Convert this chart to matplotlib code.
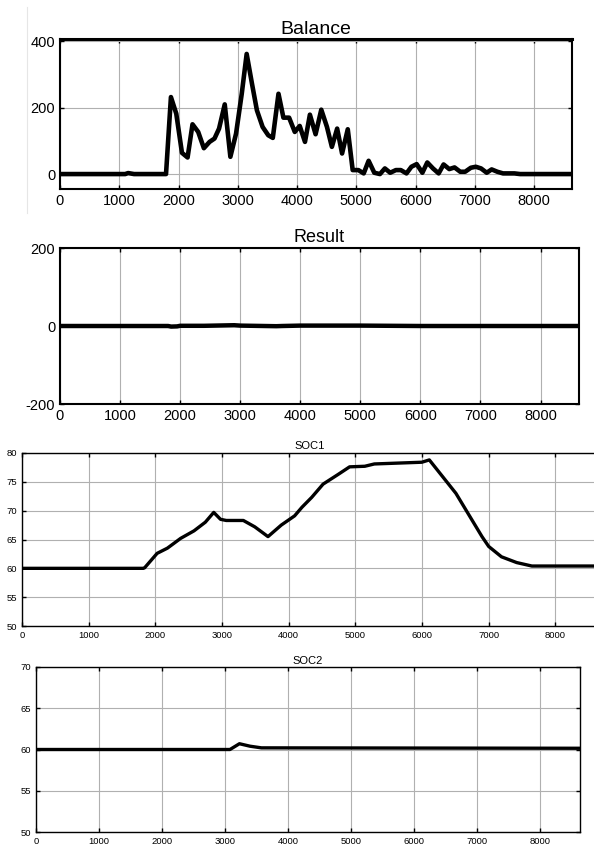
import matplotlib
matplotlib.use('Agg')
import matplotlib.pyplot as plt
from matplotlib.lines import Line2D

plt.rcParams['font.family'] = ['Liberation Sans', 'DejaVu Sans']
plt.rcParams['axes.unicode_minus'] = False

# Balance
bal_t = [0, 1100, 1150, 1250, 1789, 1872, 1962, 2058, 2153, 2236, 2332, 2428, 2524, 2607,
         2684, 2780, 2875, 2971, 3067, 3150, 3240, 3323, 3419, 3514, 3591, 3687, 3770,
         3866, 3962, 4045, 4134, 4217, 4313, 4409, 4505, 4588, 4677, 4760, 4856, 4939,
         5035, 5125, 5208, 5304, 5399, 5482, 5572, 5668, 5751, 5847, 5930, 6019, 6115,
         6198, 6294, 6390, 6473, 6569, 6658, 6754, 6837, 6933, 7016, 7105, 7201, 7284,
         7380, 7476, 7668, 7764, 8640]
bal_v = [0, 0, 3, 0, 0, 232, 182, 64, 50, 150, 127, 78, 97, 107,
         137, 210, 52, 122, 242, 362, 272, 192, 142, 117, 109, 242, 170,
         170, 127, 145, 97, 179, 120, 194, 142, 82, 137, 62, 135, 12,
         12, 2, 40, 4, 0, 17, 4, 12, 12, 2, 22, 30, 4,
         35, 17, 2, 29, 15, 20, 7, 7, 19, 22, 17, 4, 14,
         7, 2, 2, 0, 0]

# Result
res_t = [0, 1800, 1850, 1950, 2000, 2400, 2900, 3000, 3600, 3700, 4000, 5000, 6000, 7000, 8640]
res_v = [0, 0, -1.5, -1, 0.5, 0.5, 2, 1, -0.5, 0, 1, 1, 0, 0, 0]

# SOC1
soc1_t = [0, 1820, 1840, 2027, 2181, 2380, 2580, 2750, 2876, 2978, 3064, 3320, 3491, 3690,
          3889, 4089, 4200, 4345, 4516, 4744, 4914, 5142, 5285, 5997, 6110, 6509, 6900,
          7000, 7192, 7420, 7648, 8640]
soc1_v = [60.0, 60.0, 60.1, 62.6, 63.5, 65.2, 66.5, 68.0, 69.7, 68.5, 68.3, 68.3, 67.2, 65.5,
          67.5, 69.1, 70.6, 72.3, 74.6, 76.3, 77.6, 77.7, 78.1, 78.4, 78.8, 73.0, 65.5,
          63.8, 62.0, 61.0, 60.4, 60.4]

# SOC2
soc2_t = [0, 3081, 3231, 3399, 3580, 8640]
soc2_v = [60.0, 60.0, 60.7, 60.4, 60.2, 60.15]

W, H = 594, 848
fig = plt.figure(figsize=(W / 100, H / 100), dpi=100)


def box(l, r, t, b):
    return [l / W, 1 - b / H, (r - l) / W, (b - t) / H]


def style(ax, fs, spw):
    ax.grid(True, color='#b0b0b0', lw=0.8)
    ax.set_axisbelow(True)
    ax.tick_params(direction='in', top=True, right=True, labelsize=fs, length=3, width=1)
    for s in ax.spines.values():
        s.set_linewidth(spw)
    ax.set_xlim(0, 8640)
    ax.set_xticks(range(0, 9000, 1000))


ax1 = fig.add_axes(box(60, 572, 39, 189))
ax1.plot(bal_t, bal_v, color='black', lw=3.3)
style(ax1, 10.5, 1.5)
ax1.spines['top'].set_linewidth(2.2)
ax1.set_ylim(-45, 407)
ax1.set_yticks([0, 200, 400])
ax1.set_title('Balance', fontsize=14, pad=3.5)

ax2 = fig.add_axes(box(60, 579, 248, 404))
ax2.plot(res_t, res_v, color='black', lw=3.2)
style(ax2, 10.5, 1.5)
ax2.set_ylim(-200, 200)
ax2.set_yticks([-200, 0, 200])
ax2.set_title('Result', fontsize=13, pad=4)

ax3 = fig.add_axes(box(22, 598, 453, 626))
ax3.plot(soc1_t, soc1_v, color='black', lw=2.4)
style(ax3, 6.8, 1.0)
ax3.set_ylim(50, 80)
ax3.set_yticks(range(50, 81, 5))
ax3.set_title('SOC1', fontsize=8, pad=3)

ax4 = fig.add_axes(box(36, 580, 667, 832))
ax4.plot(soc2_t, soc2_v, color='black', lw=2.4)
style(ax4, 6.8, 1.0)
ax4.set_ylim(50, 70)
ax4.set_yticks(range(50, 71, 5))
ax4.set_title('SOC2', fontsize=8, pad=2)

# faint vertical edge at the left of the top panel
fig.add_artist(Line2D([27 / W, 27 / W], [1 - 7 / H, 1 - 213 / H], color='#e6e6e6', lw=0.8))

fig.savefig('out.png', dpi=100)
